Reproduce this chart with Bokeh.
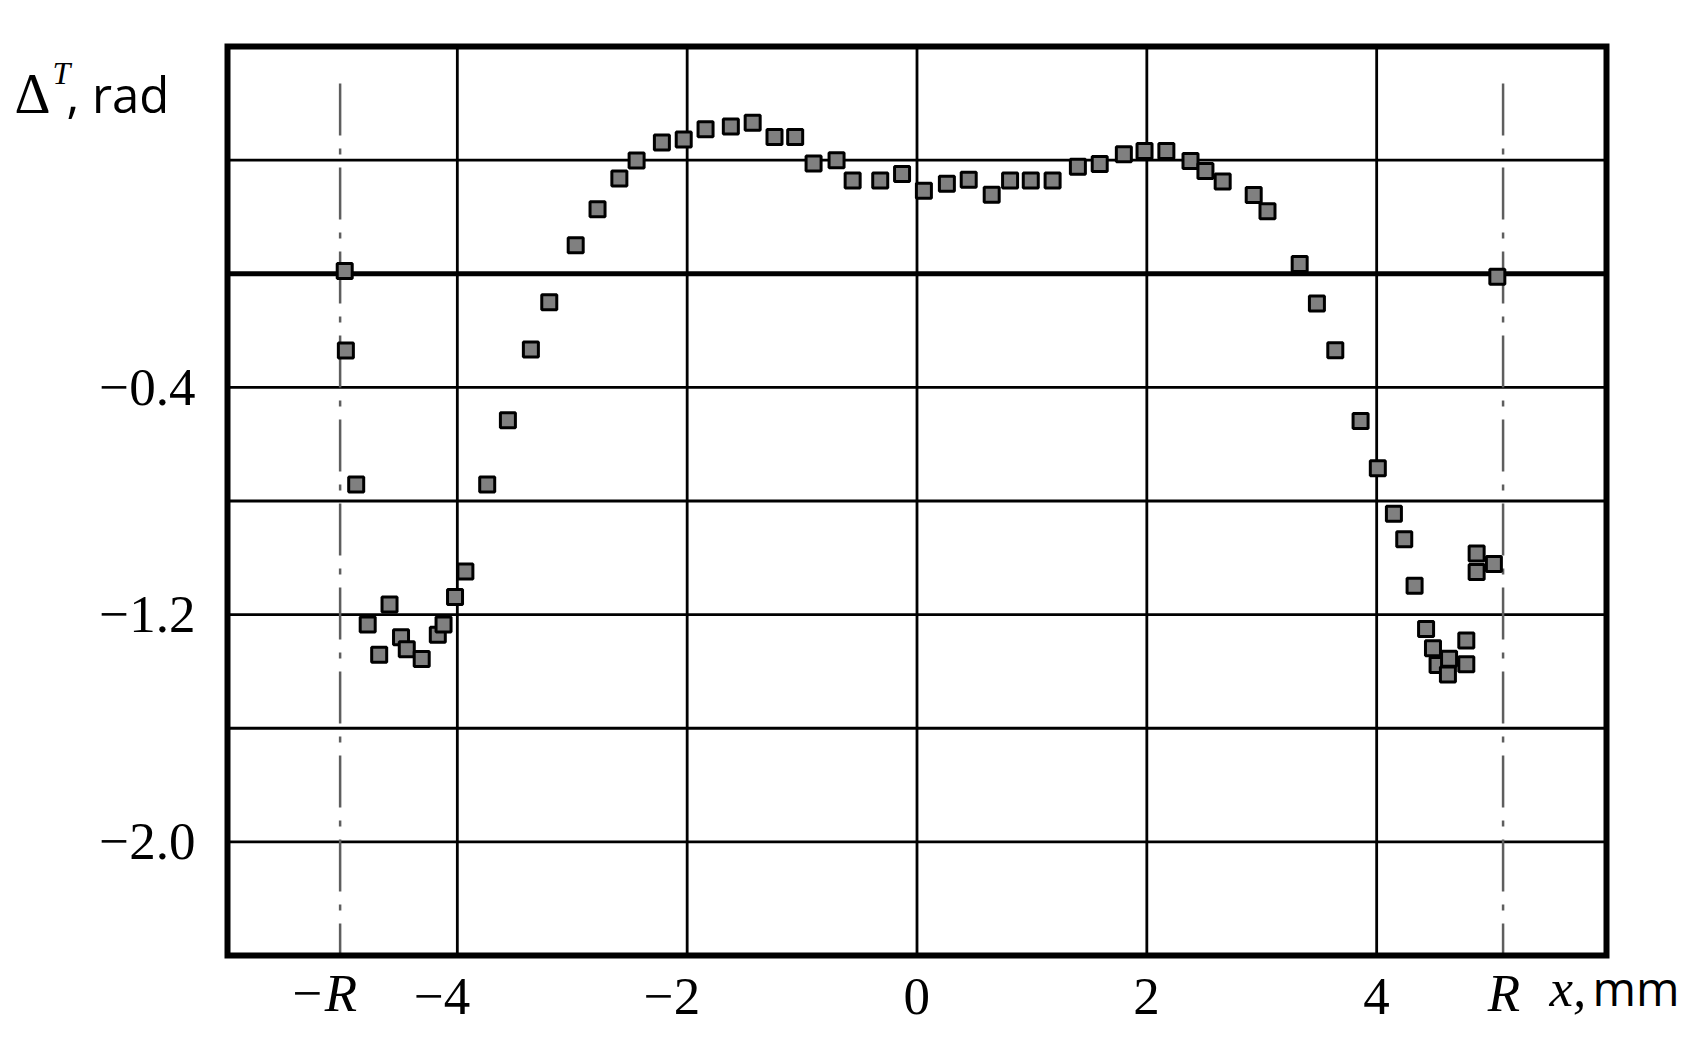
from bokeh.plotting import figure
from bokeh.models import Range1d, ColumnDataSource, Label
from bokeh.embed import file_html
from bokeh.resources import INLINE

# ---- data ----
x_mm = [-4.98, -4.97, -4.88, -4.78, -4.68, -4.59, -4.49, -4.44, -4.31, -4.17,
        -4.12, -4.02, -3.93, -3.74, -3.56, -3.36, -3.20, -2.97, -2.78, -2.59,
        -2.44, -2.22, -2.03, -1.84, -1.62, -1.43, -1.24, -1.06, -0.90, -0.70,
        -0.56, -0.32, -0.13, 0.06, 0.26, 0.45, 0.65, 0.81, 0.99, 1.18,
        1.40, 1.59, 1.80, 1.98, 2.17, 2.38, 2.51, 2.66, 2.93, 3.05,
        3.33, 3.48, 3.64, 3.86, 4.01, 4.15, 4.24, 4.33, 4.43, 4.49,
        4.53, 4.62, 4.63, 4.78, 4.78, 4.87, 4.87, 5.02, 5.05]
delta_rad = [0.010, -0.270, -0.742, -1.235, -1.341, -1.164, -1.280, -1.322, -1.356, -1.271,
             -1.235, -1.138, -1.048, -0.742, -0.516, -0.267, -0.100, 0.100, 0.227, 0.335,
             0.399, 0.462, 0.473, 0.509, 0.518, 0.532, 0.481, 0.481, 0.388, 0.400,
             0.328, 0.328, 0.351, 0.292, 0.317, 0.331, 0.278, 0.328, 0.328, 0.328,
             0.377, 0.386, 0.421, 0.432, 0.432, 0.397, 0.362, 0.325, 0.277, 0.220,
             0.034, -0.105, -0.269, -0.518, -0.685, -0.845, -0.935, -1.098, -1.251, -1.318,
             -1.377, -1.411, -1.355, -1.291, -1.375, -0.985, -1.050, -1.022, -0.011]

x_ticks = [-4, -2, 0, 2, 4]
x_tick_labels = ["\u22124", "\u22122", "0", "2", "4"]
y_ticks = [-0.4, -1.2, -2.0]
y_tick_labels = ["\u22120.4", "\u22121.2", "\u22122.0"]
y_grid = [0.8, 0.4, 0.0, -0.4, -0.8, -1.2, -1.6, -2.0, -2.4]
r_positions = [-5.02, 5.10]
r_labels = ["\u2212R", "R"]
x_lim = (-6.0, 6.0)
y_lim = (-2.4, 0.8)
r_line_top = 0.67
x_title = ["x,", "mm"]
y_title = ["\u0394", "T", ", rad"]

SERIF = "Liberation Serif"
SANS = "Open Sans"

# ---- layout (canvas pixels) ----
W, H = 1698, 1043
FRAME_L, FRAME_R, FRAME_T, FRAME_B = 227, 1606, 46, 955
ppu_x = (FRAME_R - FRAME_L) / (x_lim[1] - x_lim[0])
ppu_y = (FRAME_B - FRAME_T) / (y_lim[1] - y_lim[0])
x0 = x_lim[0] - FRAME_L / ppu_x
y_top = y_lim[1] + FRAME_T / ppu_y


def px_x(px):
    return x0 + px / ppu_x


def px_y(py):
    return y_top - py / ppu_y


p = figure(width=W, height=H,
           x_range=Range1d(x0, x0 + W / ppu_x), y_range=Range1d(y_top - H / ppu_y, y_top),
           x_axis_type=None, y_axis_type=None,
           output_backend="svg", toolbar_location=None,
           min_border=0, min_border_left=0, min_border_right=0,
           min_border_top=0, min_border_bottom=0)
p.background_fill_color = "white"
p.border_fill_color = "white"
p.outline_line_color = None

# grid
inner_y = [g for g in y_grid if g != 0.0]
p.segment(x0=[x_lim[0]] * len(inner_y), y0=inner_y, x1=[x_lim[1]] * len(inner_y), y1=inner_y,
          line_color="black", line_width=2.8)
p.segment(x0=x_ticks, y0=[y_lim[0]] * len(x_ticks), x1=x_ticks, y1=[y_lim[1]] * len(x_ticks),
          line_color="black", line_width=2.8)
p.segment(x0=[x_lim[0]], y0=[0.0], x1=[x_lim[1]], y1=[0.0], line_color="black", line_width=5)

# +-R dash-dot lines
p.segment(x0=r_positions, y0=[r_line_top] * 2, x1=r_positions, y1=[y_lim[0]] * 2,
          line_color="#5e5e5e", line_width=2.5, line_dash="52 13 6 13")

# frame box
p.quad(left=[x_lim[0]], right=[x_lim[1]], bottom=[y_lim[0]], top=[y_lim[1]],
       fill_color=None, line_color="black", line_width=6, line_join="miter")

# data
src = ColumnDataSource(dict(x=x_mm, y=delta_rad))
p.scatter("x", "y", source=src, marker="square", size=15,
          fill_color="#808080", line_color="black", line_width=3)


def add_label(x, y, text, font, size, align="left", style="normal", x_offset=0):
    p.add_layout(Label(x=x, y=y, text=text, text_font=font, text_font_size=size,
                       text_font_style=style, text_color="black", text_align=align,
                       text_baseline="middle", x_offset=x_offset))


# x tick labels (digit centred on tick)
for xt, lab in zip(x_ticks, x_tick_labels):
    add_label(xt, px_y(996), lab, SERIF, "53px", align="right", x_offset=13)
# -R, R labels
for xr, lab in zip(r_positions, r_labels):
    add_label(xr, px_y(992), lab, SERIF, "53px", align="right", style="italic", x_offset=17)
# y tick labels
for yt, lab in zip(y_ticks, y_tick_labels):
    add_label(x_lim[0], yt, lab, SERIF, "53px", align="right", x_offset=-32)

# x axis title  "x,mm"
add_label(px_x(1549), px_y(987), x_title[0], SERIF, "53px", style="italic")
add_label(px_x(1592), px_y(987), x_title[1], SANS, "47px")

# y axis title  "Δ^T, rad"
add_label(px_x(14), px_y(93), y_title[0], SERIF, "56px")
add_label(px_x(52), px_y(72), y_title[1], SERIF, "32px", style="italic")
add_label(px_x(66), px_y(93), y_title[2], SANS, "49px")

open("out.html", "w").write(file_html(p, INLINE))
